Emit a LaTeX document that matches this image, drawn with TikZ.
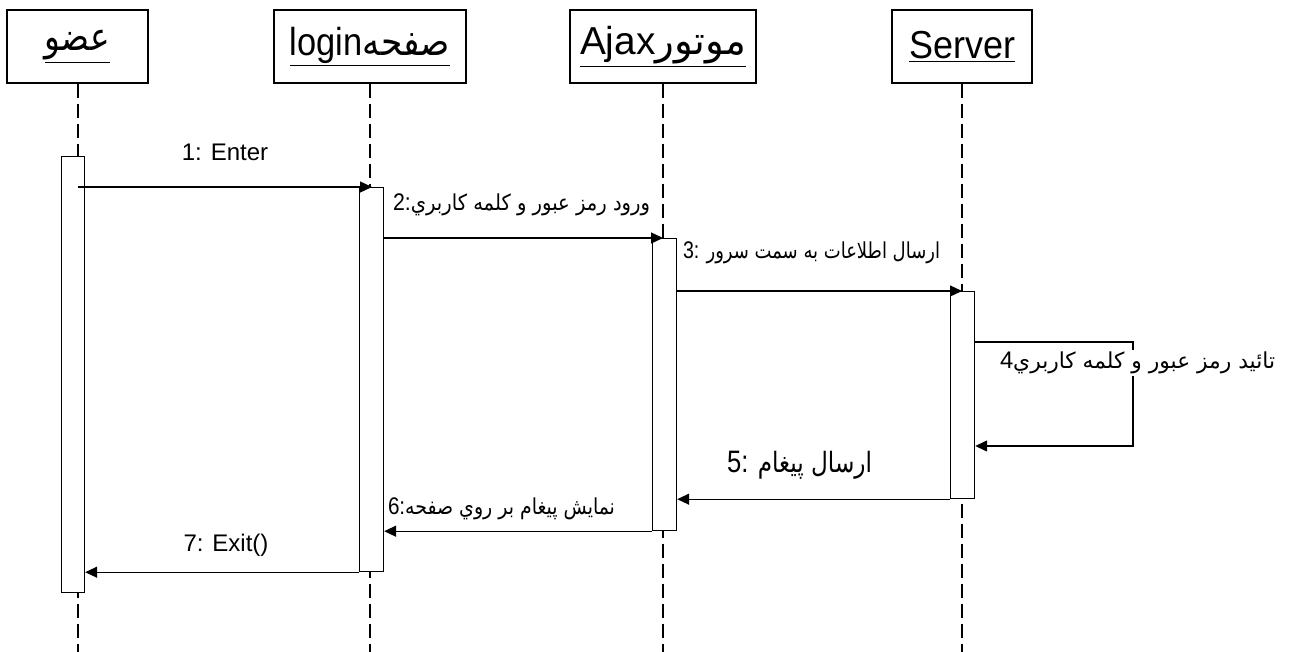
\documentclass[tikz,border=0pt]{standalone}
\usepackage{fontspec}
\usepackage{graphicx}
\setmainfont{Liberation Sans}
\newfontfamily\arabicfont[Script=Arabic]{DejaVu Sans}
\TeXXeTstate=1
\usetikzlibrary{arrows.meta}
\newcommand{\fa}[1]{{\arabicfont\beginR #1\endR}}
\newcommand{\fitw}[2]{\resizebox{#1}{\height}{#2}}
\begin{document}
\begin{tikzpicture}[x=1pt,y=-1pt,
  head/.style={draw, line width=1.3pt, minimum height=73pt, inner sep=0pt, fill=white,
    font=\fontsize{39}{44}\selectfont},
  bar/.style={draw, line width=1.2pt, fill=white, inner sep=0pt, anchor=north west},
  life/.style={line width=1.2pt, dash pattern=on 14pt off 6pt},
  msg/.style={line width=1.3pt, -{Triangle[length=12pt,width=11pt]}},
  lbl/.style={inner sep=0pt, font=\fontsize{24}{28}\selectfont},
  albl/.style={inner sep=0pt, font=\fontsize{22}{26}\selectfont}]
\useasboundingbox (0,0) rectangle (1289,652);
% headers
\node[head, minimum width=141pt] (h1) at (77.5,46.5) {\underline{\fitw{65pt}{\fa{عضو}}}};
\node[head, minimum width=192pt] (h2) at (370,46.5) {\underline{\fitw{160pt}{login\fa{صفحه}}}};
\node[head, minimum width=186pt] (h3) at (663,46.5) {\underline{\fitw{166pt}{Ajax\fa{موتور}}}};
\node[head, minimum width=140pt] (h4) at (962,46.5) {\underline{\fitw{106pt}{Server}}};
% lifeline ends
\coordinate (e1) at (78,652);
\coordinate (e2) at (370,652);
\coordinate (e3) at (663,652);
\coordinate (e4) at (962,652);
\draw[life] (e1 |- h1.south) -- (e1);
\draw[life] (h2.south) -- (e2);
\draw[life] (h3.south) -- (e3);
\draw[life] (h4.south) -- (e4);
% activation bars
\node[bar, minimum width=23pt, minimum height=436pt] (a1) at (61,156) {};
\node[bar, minimum width=24pt, minimum height=384pt] (a2) at (359,187) {};
\node[bar, minimum width=24pt, minimum height=292pt] (a3) at (652,238) {};
\node[bar, minimum width=24pt, minimum height=207pt] (a4) at (950,291) {};
% messages
\draw[msg] (e1 |- a2.north) -- ([xshift=2pt]e2 |- a2.north);
\draw[msg] (a2.east |- a3.north) -- (e3 |- a3.north);
\draw[msg] (a3.east |- a4.north) -- (e4 |- a4.north);
\coordinate (s1) at (1133,342);
\coordinate (s2) at (1133,446);
\draw[msg] (a4.east |- s1) -- (s1) -- (s2) -- (a4.east |- s2);
\draw[msg] (a4.south west) -- (a3.east |- a4.south west);
\draw[msg] (a3.south west) -- (a2.east |- a3.south west);
\draw[msg] (a2.south west) -- (a1.east |- a2.south west);
% labels
\node[lbl] (t1) at (225,152) {1: Enter};
\node[albl] (t2) at (521.5,205) {\fitw{257pt}{\fontsize{24}{28}\selectfont 2:\fa{\fontsize{22}{26}\selectfont ورود رمز عبور و کلمه کاربري}}};
\node[albl] (t3) at (811.5,253) {\fitw{257pt}{\fontsize{24}{28}\selectfont 3: \fa{\fontsize{22}{26}\selectfont ارسال اطلاعات به سمت سرور}}};
\node[albl, fill=white, inner ysep=2pt] (t4) at (1137.5,363) {\fitw{275pt}{\fontsize{24}{28}\selectfont 4\fa{\fontsize{22}{26}\selectfont تائید رمز عبور و کلمه کاربري}}};
\node[albl] (t5) at (799.5,465) {\fitw{145pt}{\fontsize{31}{36}\selectfont 5: \fa{\fontsize{28}{32}\selectfont ارسال پیغام}}};
\node[albl] (t6) at (501.5,509) {\fitw{227pt}{\fontsize{24}{28}\selectfont 6:\fa{\fontsize{22}{26}\selectfont نمایش پیغام بر روي صفحه}}};
\node[lbl] (t7) at (226,545) {7: Exit()};
\end{tikzpicture}
\end{document}
